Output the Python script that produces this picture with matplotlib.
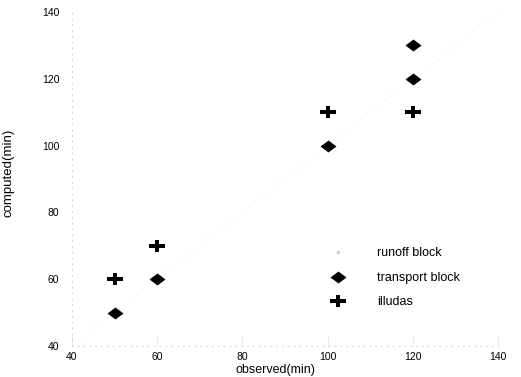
import matplotlib
matplotlib.use("Agg")
import matplotlib.pyplot as plt
from matplotlib.path import Path

plt.rcParams['font.family'] = ['Liberation Sans', 'DejaVu Sans']

# data
transport_obs = [50, 60, 100, 120, 120]
transport_comp = [50, 60, 100, 120, 130]
illudas_obs = [50, 60, 100, 120]
illudas_comp = [60, 70, 110, 110]
runoff_obs = []   # not legible in the scan
runoff_comp = []
ticks = [40, 60, 80, 100, 120, 140]

# the scanned markers are a bit wider than tall
diamond = Path([(-1, 0), (0, 0.75), (1, 0), (0, -0.75), (-1, 0)])
a, b = 0.2, 0.2
plus = Path([(-1, b), (-a, b), (-a, 0.8), (a, 0.8), (a, b), (1, b),
             (1, -b), (a, -b), (a, -0.8), (-a, -0.8), (-a, -b), (-1, -b),
             (-1, b)])

fig = plt.figure(figsize=(5.21, 3.77), dpi=100)
ax = fig.add_axes([0.138, 0.082, 0.818, 0.886])

# faint 1:1 line
ax.plot([40, 140], [40, 140], color='#dddddd', lw=0.6, ls=(0, (1, 8)), zorder=1)

ax.plot(runoff_obs, runoff_comp, ls='none', marker='.', ms=3, color='#cccccc',
        label='runoff block')
ax.plot(transport_obs, transport_comp, ls='none', marker=diamond, ms=11.5,
        color='black', mew=0, label='transport block')
ax.plot(illudas_obs, illudas_comp, ls='none', marker=plus, ms=11,
        color='black', mew=0, label='illudas')

ax.set_xlim(40, 140)
ax.set_ylim(40, 140)
ax.set_xticks(ticks)
ax.set_yticks(ticks)
ax.tick_params(length=0, labelsize=7.5)
ax.tick_params(axis='y', pad=9)
ax.tick_params(axis='x', direction='in', length=7, width=0.6,
               color='#e4e4e4', pad=4)
# only the last x tick survived the scan clearly
last = ax.xaxis.get_major_ticks()[-1]
last.tick1line.set_color('#555555')

for s in ['top', 'right']:
    ax.spines[s].set_visible(False)
for s in ['left', 'bottom']:
    ax.spines[s].set_color('#c8c8c8')
    ax.spines[s].set_linestyle((0, (1, 6)))
    ax.spines[s].set_linewidth(0.6)

ax.set_xlabel('observed(min)', fontsize=9)
ax.set_ylabel('computed(min)', fontsize=9.5)
ax.xaxis.set_label_coords(0.478, -0.055)
ax.yaxis.set_label_coords(-0.135, 0.52)

leg = ax.legend(loc='upper left', bbox_to_anchor=(0.587, 0.314), frameon=False,
                fontsize=9, labelspacing=1.0, handletextpad=2.3,
                handlelength=1.6, borderpad=0)

fig.savefig('out.png', dpi=100, facecolor='white')
